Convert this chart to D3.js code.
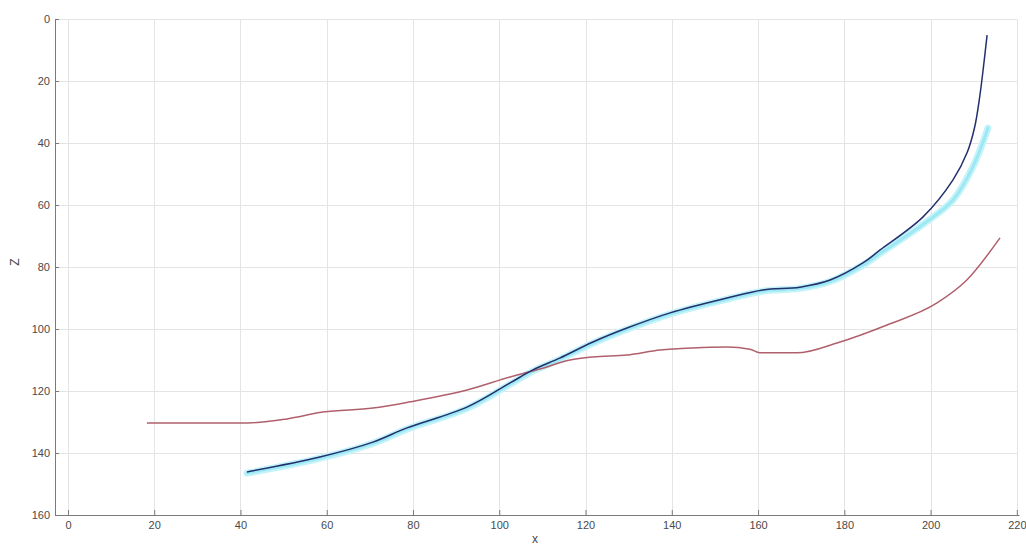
<!DOCTYPE html>
<meta charset="utf-8">
<style>
    body { margin: 0; background: #fff; }
    .grid line { stroke: #e4e4e4; stroke-width: 1; }
    .axis path, .axis line { stroke: #7a7a7a; }
    .axis text { fill: #4a4a4a; font-family: "Liberation Sans", Arial, sans-serif; font-size: 11px; }
    .lbl { fill: #4a4a4a; font-family: "Liberation Sans", Arial, sans-serif; font-size: 12px; }
</style>
<body></body>
<script src="https://d3js.org/d3.v7.min.js"></script>
<script>

    // tick values
    var xTicks = [0, 20, 40, 60, 80, 100, 120, 140, 160, 180, 200, 220];
    var zTicks = [0, 20, 40, 60, 80, 100, 120, 140, 160];

    // red series
    var redX = [18.3, 41.7, 50.8, 59.1, 70.7, 79.3, 92.5, 102.5, 109.4, 116.4, 121.7, 129.6, 137.3, 144.9, 152.8, 158.1, 160.4, 169, 178.3, 189.9, 201.5, 208.4, 216.1];
    var redZ = [130.3, 130.3, 129.0, 126.8, 125.5, 123.5, 119.7, 115.5, 112.9, 110.0, 109.0, 108.4, 106.8, 106.1, 105.8, 106.5, 107.7, 107.7, 104.5, 98.7, 91.6, 84.2, 70.6];

    // dark blue series
    var blueX = [41.5, 58.4, 70.7, 78.6, 92.5, 102.5, 107.8, 114, 121.7, 129.6, 139.6, 152.8, 161.1, 169.7, 176.7, 184.3, 188.3, 198.2, 205.2, 208.5, 210.2, 211.4, 212.3, 213.1];
    var blueZ = [146.1, 141.3, 136.5, 131.9, 125.2, 117.4, 113.2, 109.4, 104.2, 99.7, 94.8, 90.0, 87.4, 86.5, 84.2, 78.7, 74.5, 63.9, 51.9, 43.0, 35.0, 25.0, 15.0, 5.2];

    // cyan series
    var cyanX = [41.5, 58.4, 70.7, 78.6, 92.5, 102.5, 107.8, 114, 121.7, 129.6, 139.6, 152.8, 161.1, 169.7, 176.7, 184.3, 188.3, 198.2, 205.2, 209.8, 213.3];
    var cyanZ = [146.5, 141.7, 136.9, 132.3, 125.6, 117.8, 113.6, 109.8, 104.6, 100.1, 95.2, 90.4, 87.8, 86.9, 84.7, 79.4, 75.6, 66.3, 58.4, 47.7, 35.2];

    var width = 1026, height = 545;
    var mLeft = 55, mRight = 1019, mTop = 19, mBottom = 515;

    var x = d3.scaleLinear().domain([-3, 220.5]).range([mLeft, mRight]);
    var z = d3.scaleLinear().domain([0, 160]).range([mTop, mBottom]);

    var svg = d3.select("body").append("svg")
        .attr("width", width)
        .attr("height", height);

    // grid
    var grid = svg.append("g").attr("class", "grid");
    grid.selectAll(".vx").data(xTicks).enter().append("line")
        .attr("x1", function(d) { return Math.round(x(d)) + 0.5; })
        .attr("x2", function(d) { return Math.round(x(d)) + 0.5; })
        .attr("y1", mTop).attr("y2", mBottom);
    grid.selectAll(".hz").data(zTicks).enter().append("line")
        .attr("x1", mLeft).attr("x2", x(220))
        .attr("y1", function(d) { return Math.round(z(d)) + 0.5; })
        .attr("y2", function(d) { return Math.round(z(d)) + 0.5; });

    function pts(xs, zs) {
        return xs.map(function(v, i) { return [v, zs[i]]; });
    }

    var line = d3.line()
        .x(function(d) { return x(d[0]); })
        .y(function(d) { return z(d[1]); })
        .curve(d3.curveMonotoneX);

    var lineY = d3.line()
        .x(function(d) { return x(d[0]); })
        .y(function(d) { return z(d[1]); })
        .curve(d3.curveCatmullRom);

    // cyan drawn as a soft wide band under the dark line
    svg.append("path")
        .datum(pts(cyanX, cyanZ))
        .attr("d", lineY)
        .attr("fill", "none")
        .attr("stroke", "#c4f3f9")
        .attr("stroke-width", 7)
        .attr("stroke-linecap", "round");

    svg.append("path")
        .datum(pts(cyanX, cyanZ))
        .attr("d", lineY)
        .attr("fill", "none")
        .attr("stroke", "#9ce8f3")
        .attr("stroke-width", 3)
        .attr("stroke-linecap", "round");

    svg.append("path")
        .datum(pts(redX, redZ))
        .attr("d", line)
        .attr("fill", "none")
        .attr("stroke", "#b0606c")
        .attr("stroke-width", 1.5);

    svg.append("path")
        .datum(pts(blueX, blueZ))
        .attr("d", lineY)
        .attr("fill", "none")
        .attr("stroke", "#23306e")
        .attr("stroke-width", 1.5);

    // axes
    var xAxis = d3.axisBottom(x).tickValues(xTicks).tickSizeInner(-5).tickSizeOuter(0).tickPadding(6);
    var zAxis = d3.axisLeft(z).tickValues(zTicks).tickSizeInner(-4).tickSizeOuter(0).tickPadding(5);

    svg.append("g")
        .attr("class", "axis")
        .attr("transform", "translate(0," + mBottom + ")")
        .call(xAxis);

    svg.append("g")
        .attr("class", "axis")
        .attr("transform", "translate(" + mLeft + ",0)")
        .call(zAxis);

    svg.append("text")
        .attr("class", "lbl")
        .attr("x", 535).attr("y", 543)
        .attr("text-anchor", "middle")
        .text("x");

    svg.append("text")
        .attr("class", "lbl")
        .attr("transform", "translate(19,262) rotate(-90)")
        .attr("text-anchor", "middle")
        .text("Z");

</script>
